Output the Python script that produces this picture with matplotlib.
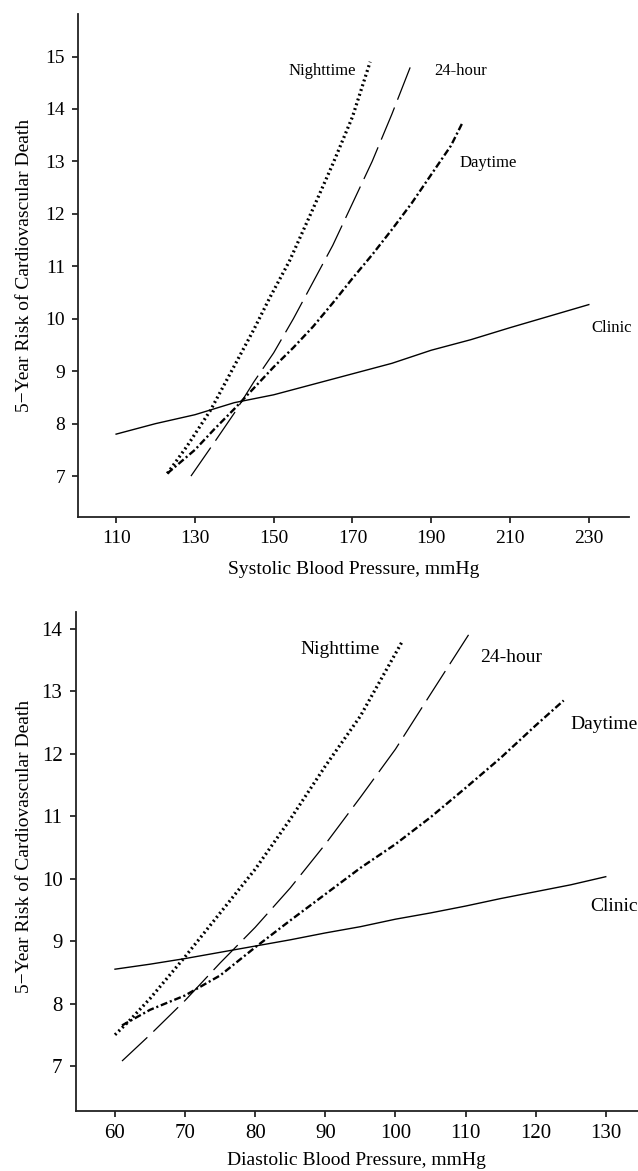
import matplotlib
matplotlib.use("Agg")
import matplotlib.pyplot as plt

plt.rcParams['font.family'] = ['Liberation Serif', 'DejaVu Serif']
plt.rcParams['lines.scale_dashes'] = False

# systolic panel
sys_night_x = [123, 128, 134, 140, 145, 149, 154, 160, 165, 170, 174.5]
sys_night_y = [7.05, 7.57, 8.26, 9.1, 9.8, 10.4, 11.1, 12.1, 12.95, 13.85, 14.9]
sys_24h_x = [129, 135, 140, 145, 150, 155, 160, 165, 170, 175, 180, 185]
sys_24h_y = [7.0, 7.65, 8.2, 8.8, 9.35, 10.0, 10.7, 11.4, 12.2, 13.0, 13.9, 14.86]
sys_day_x = [123, 130, 135, 140, 145, 150, 155, 160, 165, 170, 175, 180, 185, 190, 195, 198]
sys_day_y = [7.05, 7.5, 7.9, 8.28, 8.68, 9.08, 9.45, 9.85, 10.3, 10.77, 11.22, 11.7, 12.2, 12.75, 13.3, 13.75]
sys_clinic_x = [110, 120, 130, 140, 150, 160, 170, 180, 190, 200, 210, 220, 230]
sys_clinic_y = [7.8, 8.0, 8.17, 8.4, 8.55, 8.75, 8.95, 9.15, 9.4, 9.6, 9.83, 10.05, 10.27]

# diastolic panel
dia_night_x = [60, 62, 65, 70, 75, 80, 85, 90, 95, 100, 101]
dia_night_y = [7.5, 7.72, 8.08, 8.75, 9.45, 10.15, 10.95, 11.8, 12.6, 13.6, 13.8]
dia_24h_x = [61, 65, 70, 75, 80, 85, 90, 95, 100, 105, 111]
dia_24h_y = [7.08, 7.5, 8.05, 8.65, 9.22, 9.85, 10.55, 11.3, 12.07, 12.95, 14.0]
dia_day_x = [61, 65, 70, 75, 80, 85, 90, 95, 100, 105, 110, 115, 120, 124]
dia_day_y = [7.65, 7.9, 8.13, 8.45, 8.9, 9.33, 9.75, 10.17, 10.55, 10.98, 11.45, 11.93, 12.45, 12.85]
dia_clinic_x = [60, 65, 70, 75, 80, 85, 90, 95, 100, 105, 110, 115, 120, 125, 130]
dia_clinic_y = [8.55, 8.63, 8.72, 8.82, 8.92, 9.02, 9.13, 9.23, 9.35, 9.45, 9.56, 9.68, 9.79, 9.9, 10.03]

sys_ticks = [110, 130, 150, 170, 190, 210, 230]
sys_yticks = [7, 8, 9, 10, 11, 12, 13, 14, 15]
dia_ticks = [60, 70, 80, 90, 100, 110, 120, 130]
dia_yticks = [7, 8, 9, 10, 11, 12, 13, 14]

ylab = "5\u2212Year Risk of Cardiovascular Death"

fig = plt.figure(figsize=(6.38, 11.71), dpi=100)
ax1 = fig.add_axes([0.1227, 0.5585, 0.8632, 0.4295])
ax2 = fig.add_axes([0.1187, 0.0512, 0.8813, 0.4264])


def draw(ax, night, h24, day, clinic):
    ax.plot(*night, color='black', lw=2.3, ls=(0, (1.4, 2.2)))
    ax.plot(*h24, color='black', lw=0.9, ls=(0, (25, 6)))
    ax.plot(*day, color='black', lw=1.7, ls=(0, (5, 2, 1.5, 2)))
    ax.plot(*clinic, color='black', lw=1.0)


def style(ax, fs):
    for s in ['top', 'right']:
        ax.spines[s].set_visible(False)
    for s in ['left', 'bottom']:
        ax.spines[s].set_linewidth(1.3)
        ax.spines[s].set_color('#222222')
    ax.tick_params(direction='out', length=4.5, width=1.1, labelsize=fs, pad=5)


draw(ax1, (sys_night_x, sys_night_y), (sys_24h_x, sys_24h_y),
     (sys_day_x, sys_day_y), (sys_clinic_x, sys_clinic_y))
ax1.set_xlim(100.4, 240.2)
ax1.set_ylim(6.22, 15.81)
ax1.set_xticks(sys_ticks)
ax1.set_yticks(sys_yticks)
style(ax1, 14)
ax1.set_xlabel("Systolic Blood Pressure, mmHg", fontsize=14)
ax1.set_ylabel(ylab, fontsize=14)
ax1.xaxis.set_label_coords(0.5, -0.087)
ax1.yaxis.set_label_coords(-0.082, 0.5)
ax1.text(171, 14.73, "Nighttime", fontsize=12, ha='right', va='center')
ax1.text(190.7, 14.73, "24-hour", fontsize=12, ha='left', va='center')
ax1.text(197.3, 12.97, "Daytime", fontsize=12, ha='left', va='center')
ax1.text(230.6, 9.82, "Clinic", fontsize=12, ha='left', va='center')

draw(ax2, (dia_night_x, dia_night_y), (dia_24h_x, dia_24h_y),
     (dia_day_x, dia_day_y), (dia_clinic_x, dia_clinic_y))
ax2.set_xlim(54.4, 134.6)
ax2.set_ylim(6.28, 14.27)
ax2.set_xticks(dia_ticks)
ax2.set_yticks(dia_yticks)
style(ax2, 15)
ax2.set_xlabel("Diastolic Blood Pressure, mmHg", fontsize=14)
ax2.set_ylabel(ylab, fontsize=14)
ax2.xaxis.set_label_coords(0.5, -0.083)
ax2.yaxis.set_label_coords(-0.076, 0.53)
ax2.text(97.8, 13.67, "Nighttime", fontsize=14, ha='right', va='center')
ax2.text(112.1, 13.54, "24-hour", fontsize=14, ha='left', va='center')
ax2.text(124.9, 12.47, "Daytime", fontsize=14, ha='left', va='center')
ax2.text(127.8, 9.55, "Clinic", fontsize=14, ha='left', va='center')

fig.savefig("out.png", dpi=100)
